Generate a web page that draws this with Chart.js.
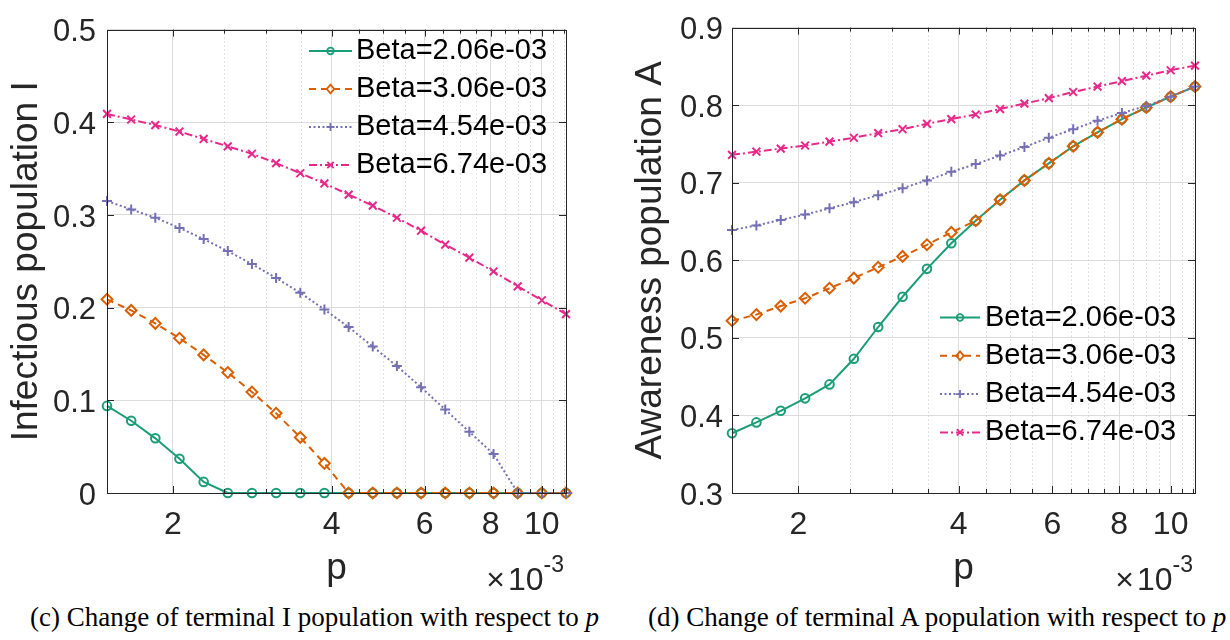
<!DOCTYPE html>
<html>
<head>
<meta charset="utf-8">
<title>Terminal I and A population vs p</title>
<script src="https://cdn.jsdelivr.net/npm/chart.js@4.4.1/dist/chart.umd.min.js"></script>
<style>
  body { margin: 0; background: #fff; width: 1230px; height: 640px; overflow: hidden; position: relative; }
  .panel { position: absolute; top: 0; width: 615px; height: 600px; }
  .caption { position: absolute; top: 602px; font-family: "Liberation Serif", "Times New Roman", serif; font-size: 27px; color: #000; white-space: nowrap; }
</style>
</head>
<body>
<div class="panel" style="left:0"><canvas id="chartI"></canvas></div>
<div class="panel" style="left:615px"><canvas id="chartA"></canvas></div>
<div class="caption" style="left:30px">(c) Change of terminal I population with respect to <i>p</i></div>
<div class="caption" style="left:648px">(d) Change of terminal A population with respect to <i>p</i></div>
<script>
// p values, in units of 1e-3
const pValues = [1.501, 1.668, 1.853, 2.059, 2.288, 2.542, 2.824, 3.138, 3.487, 3.874,
                 4.305, 4.783, 5.314, 5.905, 6.561, 7.290, 8.100, 9.000, 10.00, 11.11];
const betaLabels = ["Beta=2.06e-03", "Beta=3.06e-03", "Beta=4.54e-03", "Beta=6.74e-03"];

// terminal infectious population I
const infBeta1 = [0.094, 0.078, 0.059, 0.037, 0.012, 0, 0, 0, 0, 0, 0, 0, 0, 0, 0, 0, 0, 0, 0, 0];
const infBeta2 = [0.209, 0.197, 0.183, 0.167, 0.149, 0.130, 0.109, 0.086, 0.060, 0.032, 0, 0, 0, 0, 0, 0, 0, 0, 0, 0];
const infBeta3 = [0.315, 0.306, 0.297, 0.286, 0.274, 0.261, 0.247, 0.232, 0.216, 0.198,
                  0.179, 0.158, 0.137, 0.114, 0.090, 0.066, 0.042, 0, 0, 0];
const infBeta4 = [0.409, 0.403, 0.397, 0.390, 0.382, 0.374, 0.366, 0.356, 0.345, 0.334,
                  0.322, 0.310, 0.297, 0.283, 0.268, 0.254, 0.239, 0.223, 0.208, 0.193];

// terminal awareness population A
const awBeta1 = [0.377, 0.391, 0.406, 0.422, 0.440, 0.473, 0.514, 0.553, 0.589, 0.622,
                 0.651, 0.678, 0.703, 0.725, 0.747, 0.765, 0.782, 0.797, 0.811, 0.824];
const awBeta2 = [0.522, 0.530, 0.541, 0.551, 0.564, 0.577, 0.591, 0.605, 0.620, 0.636,
                 0.651, 0.678, 0.703, 0.725, 0.747, 0.765, 0.782, 0.797, 0.811, 0.824];
const awBeta3 = [0.639, 0.645, 0.652, 0.659, 0.667, 0.675, 0.684, 0.693, 0.703, 0.714,
                 0.724, 0.735, 0.746, 0.758, 0.769, 0.780, 0.790, 0.799, 0.811, 0.824];
const awBeta4 = [0.736, 0.740, 0.744, 0.748, 0.753, 0.758, 0.764, 0.769, 0.776, 0.782,
                 0.788, 0.795, 0.802, 0.809, 0.817, 0.824, 0.831, 0.838, 0.845, 0.851];

// axis ticks
const xTickValues = [2, 4, 6, 8, 10];
const xMinorTicks = [2.5, 3, 3.5, 4.5, 5, 5.5, 6.5, 7, 7.5, 8.5, 9, 9.5, 10.5, 11];
const yTicksI = [0, 0.1, 0.2, 0.3, 0.4, 0.5];
const yTicksA = [0.3, 0.4, 0.5, 0.6, 0.7, 0.8, 0.9];

// line styles (MATLAB-like)
const seriesStyle = [
    { color: "#1b9e77", dash: [], marker: "circle", r: 4.3 },
    { color: "#d95f02", dash: [7, 5], marker: "rectRot", r: 5.4 },
    { color: "#7570b3", dash: [2, 2.5], marker: "cross", r: 5 },
    { color: "#e7298a", dash: [8, 3, 2, 3], marker: "crossRot", r: 5.5 }
];

Chart.defaults.font.family = '"Liberation Sans", Arial, sans-serif';
Chart.defaults.color = "#262626";

function drawMarker(ctx, kind, x, y, r) {
    ctx.beginPath();
    if (kind === "circle") {
        ctx.arc(x, y, r, 0, Math.PI * 2);
    } else if (kind === "rectRot") {
        ctx.moveTo(x, y - r); ctx.lineTo(x + r * 0.85, y);
        ctx.lineTo(x, y + r); ctx.lineTo(x - r * 0.85, y); ctx.closePath();
    } else if (kind === "cross") {
        ctx.moveTo(x - r, y); ctx.lineTo(x + r, y);
        ctx.moveTo(x, y - r); ctx.lineTo(x, y + r);
    } else {
        const d = r * 0.707;
        ctx.moveTo(x - d, y - d); ctx.lineTo(x + d, y + d);
        ctx.moveTo(x + d, y - d); ctx.lineTo(x - d, y + d);
    }
    ctx.stroke();
}

// minor grid, box with inward ticks, legend and the x10^-3 exponent
const matlabAxes = {
    id: "matlabAxes",
    beforeDatasetsDraw(chart) {
        const { ctx, chartArea: a, scales: { x } } = chart;
        ctx.save();
        ctx.strokeStyle = "#c4c4c4";
        ctx.lineWidth = 1;
        ctx.setLineDash([1, 3]);
        xMinorTicks.forEach(v => {
            const px = Math.round(x.getPixelForValue(v)) + 0.5;
            ctx.beginPath(); ctx.moveTo(px, a.top); ctx.lineTo(px, a.bottom); ctx.stroke();
        });
        ctx.restore();
    },
    afterDatasetsDraw(chart, args, opts) {
        const { ctx, chartArea: a, scales: { x, y } } = chart;
        ctx.save();
        ctx.strokeStyle = "#262626";
        ctx.lineWidth = 1;
        ctx.setLineDash([]);
        ctx.strokeRect(Math.round(a.left) + 0.5, Math.round(a.top) + 0.5,
                       Math.round(a.right - a.left), Math.round(a.bottom - a.top));
        ctx.beginPath();
        xTickValues.forEach(v => {
            const px = Math.round(x.getPixelForValue(v)) + 0.5;
            ctx.moveTo(px, a.bottom); ctx.lineTo(px, a.bottom - 7);
            ctx.moveTo(px, a.top); ctx.lineTo(px, a.top + 7);
        });
        xMinorTicks.forEach(v => {
            const px = Math.round(x.getPixelForValue(v)) + 0.5;
            ctx.moveTo(px, a.bottom); ctx.lineTo(px, a.bottom - 4);
            ctx.moveTo(px, a.top); ctx.lineTo(px, a.top + 4);
        });
        opts.yTicks.forEach(v => {
            const py = Math.round(y.getPixelForValue(v)) + 0.5;
            ctx.moveTo(a.left, py); ctx.lineTo(a.left + 7, py);
            ctx.moveTo(a.right, py); ctx.lineTo(a.right - 7, py);
        });
        ctx.stroke();

        // exponent label under the right end of the x axis
        ctx.fillStyle = "#262626";
        ctx.textBaseline = "alphabetic";
        ctx.font = '23px "Liberation Sans", Arial, sans-serif';
        const wExp = ctx.measureText("-3").width;
        ctx.font = '32px "Liberation Sans", Arial, sans-serif';
        const wTen = ctx.measureText("10").width;
        const wTimes = ctx.measureText("\u00d7").width;
        const xEnd = a.right - 2;
        ctx.fillText("10", xEnd - wExp - wTen, 590);
        ctx.fillText("\u00d7", xEnd - wExp - wTen - wTimes - 3, 590);
        ctx.font = '23px "Liberation Sans", Arial, sans-serif';
        ctx.fillText("-3", xEnd - wExp, 572);

        // legend (transparent, no frame)
        const lg = opts.legend;
        ctx.font = '29px "Liberation Sans", Arial, sans-serif';
        ctx.textBaseline = "middle";
        betaLabels.forEach((label, i) => {
            const st = seriesStyle[i];
            const ly = lg.y + i * lg.step;
            ctx.strokeStyle = st.color;
            ctx.lineWidth = 2;
            ctx.setLineDash(st.dash);
            ctx.beginPath(); ctx.moveTo(lg.x0, ly); ctx.lineTo(lg.x1, ly); ctx.stroke();
            ctx.setLineDash([]);
            ctx.lineWidth = 1.8;
            drawMarker(ctx, st.marker, (lg.x0 + lg.x1) / 2, ly, st.r - 1);
            ctx.fillStyle = "#000";
            ctx.fillText(label, lg.tx, ly);
        });
        ctx.restore();
    }
};

function makeChart(canvasId, series, yTicks, yTitle, geo) {
    const datasets = series.map((vals, i) => {
        const st = seriesStyle[i];
        return {
            label: betaLabels[i],
            data: pValues.map((p, k) => ({ x: p, y: vals[k] })),
            borderColor: st.color,
            backgroundColor: "transparent",
            borderWidth: 2,
            borderDash: st.dash,
            pointStyle: st.marker,
            pointRadius: st.r,
            pointBorderWidth: 2,
            pointBorderColor: st.color,
            pointBackgroundColor: "transparent",
            tension: 0,
            clip: false,
            order: 3 - i
        };
    });
    return new Chart(document.getElementById(canvasId), {
        type: "line",
        data: { datasets },
        plugins: [matlabAxes],
        options: {
            responsive: true,
            maintainAspectRatio: false,
            animation: false,
            layout: { padding: { left: 0, right: geo.padRight, top: 21, bottom: 0 } },
            plugins: {
                legend: { display: false },
                tooltip: { enabled: false },
                matlabAxes: { yTicks, legend: geo.legend }
            },
            scales: {
                x: {
                    type: "logarithmic",
                    min: pValues[0],
                    max: pValues[pValues.length - 1],
                    afterBuildTicks: s => { s.ticks = xTickValues.map(v => ({ value: v })); },
                    afterFit: s => { s.height = 107; },
                    ticks: { autoSkip: false, maxRotation: 0, font: { size: 32 }, padding: 13,
                             callback: v => String(v) },
                    grid: { color: "#dcdcdc", lineWidth: 1, drawTicks: false },
                    border: { display: false },
                    title: { display: true, text: "p", font: { size: 37 }, color: "#262626",
                             padding: { top: 0, bottom: 9 } }
                },
                y: {
                    min: yTicks[0],
                    max: yTicks[yTicks.length - 1],
                    afterBuildTicks: s => { s.ticks = yTicks.map(v => ({ value: v })); },
                    afterFit: s => { s.width = geo.yWidth; },
                    ticks: { font: { size: 31 }, padding: geo.yPad, labelOffset: 3,
                             callback: v => (v === 0 ? "0" : v.toFixed(1)) },
                    grid: { color: "#dcdcdc", lineWidth: 1, drawTicks: false },
                    border: { display: false },
                    title: { display: true, text: yTitle, font: { size: 37 }, color: "#262626",
                             padding: { top: geo.titlePad, bottom: 0 } }
                }
            }
        }
    });
}

makeChart("chartI", [infBeta1, infBeta2, infBeta3, infBeta4], yTicksI, "Infectious population I", {
    padRight: 49, yWidth: 107, yPad: 11, titlePad: 5,
    legend: { x0: 309, x1: 352, tx: 356, y: 51, step: 38 }
});
makeChart("chartA", [awBeta1, awBeta2, awBeta3, awBeta4], yTicksA, "Awareness population A", {
    padRight: 35, yWidth: 117, yPad: 9, titlePad: 14,
    legend: { x0: 325, x1: 365, tx: 370, y: 317.5, step: 38.3 }
});
</script>
</body>
</html>
